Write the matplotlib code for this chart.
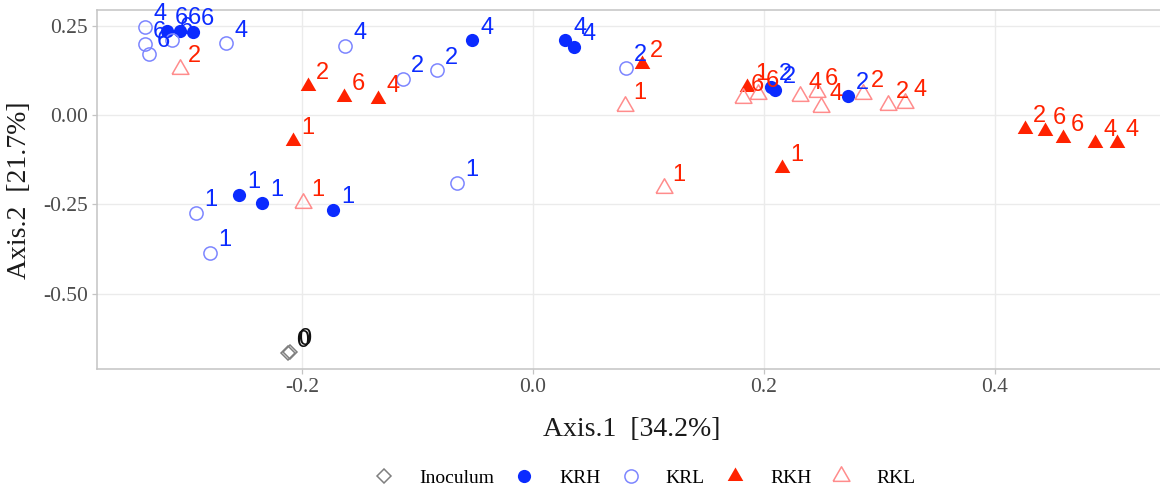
import matplotlib.pyplot as plt
from matplotlib.lines import Line2D

plt.switch_backend('agg')

# PCoA scores (Axis.1, Axis.2) with the sampling time used as point label
inoc_x = [-0.2120, -0.2100]
inoc_y = [-0.6660, -0.6620]
inoc_t = ["0", "0"]

krh_x = [-0.3169, -0.3056, -0.2944, -0.2545, -0.2346, -0.1732,
         -0.0528, 0.0277, 0.0355, 0.2061, 0.2095, 0.2727]
krh_y = [0.2349, 0.2349, 0.2321, -0.2237, -0.2461, -0.2657,
         0.2097, 0.2097, 0.1902, 0.0783, 0.0699, 0.0531]
krh_t = ["6", "6", "6", "1", "1", "1", "4", "4", "4", "2", "2", "2"]

krl_x = [-0.3359, -0.2658, -0.1628, -0.3359, -0.3325, -0.3126,
         -0.2918, -0.2797, -0.0658, -0.1126, -0.0831, 0.0805]
krl_y = [0.2461, 0.2013, 0.1930, 0.1985, 0.1706, 0.2097,
         -0.2740, -0.3859, -0.1902, 0.1007, 0.1258, 0.1314]
krl_t = ["4", "4", "4", "6", "6", "6", "1", "1", "1", "2", "2", "2"]

rkh_x = [-0.2078, 0.1853, 0.2156, -0.1948, 0.0944, 0.4260,
         -0.1636, 0.4433, 0.4589, -0.1342, 0.4866, 0.5056]
rkh_y = [-0.0727, 0.0783, -0.1482, 0.0811, 0.1426, -0.0391,
         0.0503, -0.0447, -0.0643, 0.0447, -0.0783, -0.0783]
rkh_t = ["1", "1", "1", "2", "2", "2", "6", "6", "6", "4", "4", "4"]

rkl_x = [-0.1991, 0.0797, 0.1134, -0.3056, 0.2857, 0.3074,
         0.2312, 0.2494, 0.3221, 0.1818, 0.1948, 0.2459]
rkl_y = [-0.2461, 0.0252, -0.2041, 0.1286, 0.0587, 0.0280,
         0.0531, 0.0224, 0.0336, 0.0475, 0.0587, 0.0643]
rkl_t = ["1", "1", "1", "2", "2", "2", "4", "4", "4", "6", "6", "6"]

x_ticks = [-0.2, 0.0, 0.2, 0.4]
x_tick_labels = ["-0.2", "0.0", "0.2", "0.4"]
y_ticks = [-0.50, -0.25, 0.00, 0.25]
y_tick_labels = ["-0.50", "-0.25", "0.00", "0.25"]

BLUE = "#0b2bff"
BLUE_LIGHT = "#7d86ff"
RED = "#ff2200"
RED_LIGHT = "#ff8c8c"
GREY = "#7f7f7f"

# equilateral triangle centred on its centroid
TRI = [(-1, -0.577), (1, -0.577), (0, 1.155), (-1, -0.577)]

serif = "Liberation Serif"
sans = "Liberation Sans"

W, H = 1160, 491
fig = plt.figure(figsize=(W / 100, H / 100), dpi=100)
ax = fig.add_axes([97 / W, 1 - 368.5 / H, (1164 - 97) / W, (368.5 - 10) / H])

ax.set_xlim(-0.3775, 0.5463)
ax.set_ylim(-0.709, 0.2936)
ax.set_xticks(x_ticks, x_tick_labels)
ax.set_yticks(y_ticks, y_tick_labels)
ax.grid(True, color="#ebebeb", linewidth=1.0)
ax.set_axisbelow(True)
for sp in ax.spines.values():
    sp.set_color("#c4c4c4")
    sp.set_linewidth(1.1)
ax.tick_params(length=3.5, width=0.9, color="#c4c4c4", labelcolor="#4d4d4d",
               labelsize=15.5, pad=3)
for lab in ax.get_xticklabels() + ax.get_yticklabels():
    lab.set_family(serif)

groups = [
    ("Inoculum", inoc_x, inoc_y, inoc_t,
     dict(marker="D", ms=7.5, mfc="none", mec=GREY, mew=1.1), "#111111"),
    ("KRH", krh_x, krh_y, krh_t,
     dict(marker="o", ms=9.5, mfc=BLUE, mec=BLUE, mew=0), BLUE),
    ("KRL", krl_x, krl_y, krl_t,
     dict(marker="o", ms=9.5, mfc="none", mec=BLUE_LIGHT, mew=1.1), BLUE),
    ("RKH", rkh_x, rkh_y, rkh_t,
     dict(marker=TRI, ms=13, mfc=RED, mec=RED, mew=0), RED),
    ("RKL", rkl_x, rkl_y, rkl_t,
     dict(marker=TRI, ms=14, mfc="none", mec=RED_LIGHT, mew=1.1), RED),
]

handles = []
for name, xs, ys, ts, style, tcol in groups:
    ax.plot(xs, ys, linestyle="none", zorder=3, **style)
    for x, y, t in zip(xs, ys, ts):
        ax.annotate(t, (x, y), xytext=(10.5, 9), textcoords="offset points",
                    ha="center", va="center", color=tcol, fontsize=17,
                    family=sans, zorder=4)
    handles.append(Line2D([], [], linestyle="none", label=name, **style))

fig.text(632 / W, 1 - 430 / H, "Axis.1  [34.2%]", ha="center", va="center",
         fontsize=20, family=serif, color="#1a1a1a")
fig.text(20 / W, 1 - 190 / H, "Axis.2  [21.7%]", ha="center", va="center",
         rotation=90, fontsize=20, family=serif, color="#1a1a1a")

fig.legend(handles=handles, loc="center", bbox_to_anchor=(644 / W, 1 - 478 / H),
           ncol=5, frameon=False, prop={"family": serif, "size": 14},
           handlelength=1.2, handletextpad=1.2, columnspacing=0.95)

fig.savefig("out.png", dpi=100)
